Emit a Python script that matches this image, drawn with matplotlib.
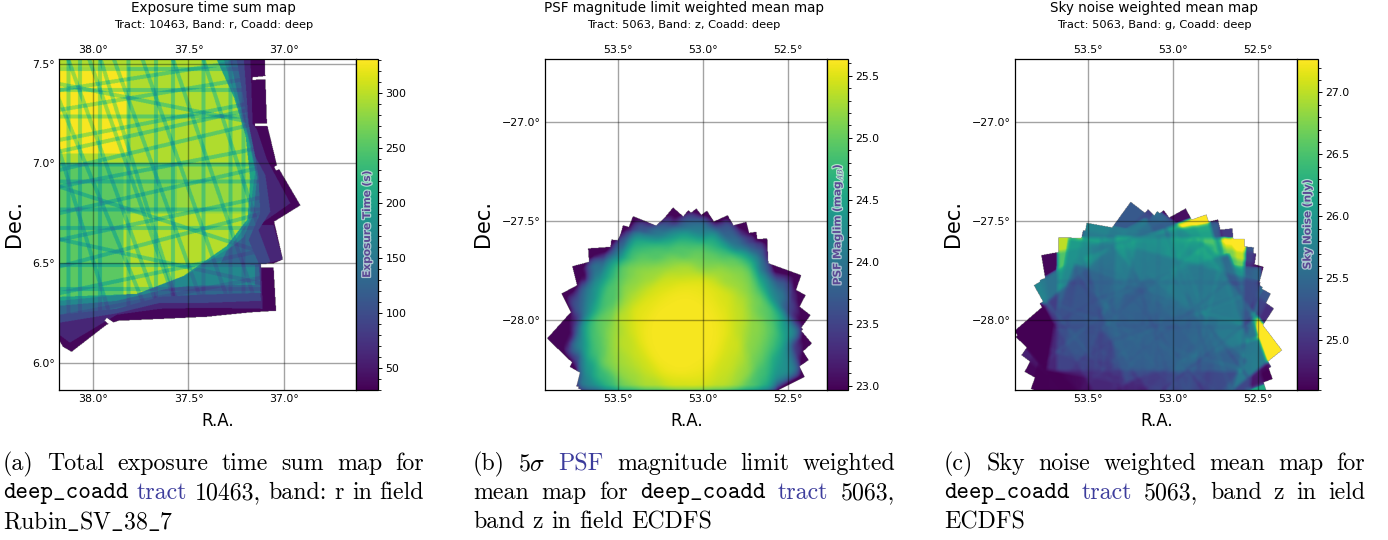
import numpy as np
import matplotlib
matplotlib.use("Agg")
import matplotlib.pyplot as plt
import matplotlib.patheffects as pe
from matplotlib.path import Path
from matplotlib.ticker import AutoMinorLocator

plt.rcParams["mathtext.fontset"] = "cm"

W, H = 1388, 540

# -------------------------------------------------------------------
# PANEL A - exposure time, read off the map as nested levels and stripes
# -------------------------------------------------------------------
A_OUTLINE = [(38.179, 7.54), (37.10, 7.54), (37.088, 7.20), (37.035, 6.99), (36.912, 6.79),
             (37.05, 6.708), (37.004, 6.518), (37.053, 6.498), (37.053, 6.478), (37.04, 6.26),
             (37.175, 6.252), (37.404, 6.23), (37.649, 6.219), (37.868, 6.21), (37.93, 6.19),
             (38.114, 6.054), (38.16, 6.08), (38.179, 6.113)]
A_GAPS = [[(37.163, 7.433), (37.09, 7.44), (37.09, 7.423), (37.163, 7.42)],
          [(37.15, 7.202), (37.08, 7.202), (37.08, 7.188), (37.15, 7.188)],
          [(37.05, 6.985), (37.03, 6.992), (37.02, 6.972), (37.04, 6.965)],
          [(37.12, 6.495), (37.05, 6.498), (37.05, 6.478), (37.12, 6.478)],
          [(37.94, 6.21), (37.915, 6.19), (37.89, 6.20), (37.93, 6.225)]]
A_RIM_VALUE = 35
A_LEVEL_VALUES = [62, 95, 130, 170, 205, 255]
A_LEVELS = [
    [(38.179, 7.54), (37.175, 7.54), (37.163, 7.20), (37.14, 7.17), (37.088, 7.02), (36.965, 6.80),
     (37.07, 6.73), (37.132, 6.69), (37.053, 6.69), (37.005, 6.518), (37.118, 6.49), (37.11, 6.27),
     (37.404, 6.275), (37.649, 6.27), (37.877, 6.24), (37.93, 6.21), (38.123, 6.10), (38.179, 6.14)],
    [(38.179, 7.54), (37.21, 7.54), (37.184, 7.20), (37.149, 7.034), (37.096, 6.942), (37.07, 6.758),
     (37.132, 6.666), (37.07, 6.507), (37.123, 6.482), (37.12, 6.31), (37.404, 6.30), (37.649, 6.30),
     (37.877, 6.247), (38.179, 6.20)],
    [(38.179, 7.54), (37.25, 7.54), (37.21, 7.32), (37.149, 7.034), (37.132, 6.93), (37.123, 6.75),
     (37.184, 6.615), (37.132, 6.50), (37.12, 6.35), (37.456, 6.34), (37.649, 6.33), (37.877, 6.27), (38.179, 6.24)],
    [(38.179, 7.54), (37.285, 7.54), (37.235, 7.32), (37.175, 7.10), (37.14, 6.93), (37.158, 6.75),
     (37.21, 6.63), (37.30, 6.56), (37.33, 6.50), (37.15, 6.49), (37.15, 6.39), (37.5, 6.385),
     (37.614, 6.37), (37.877, 6.31), (38.179, 6.285)],
    [(38.179, 7.54), (37.32, 7.54), (37.25, 7.32), (37.19, 7.14), (37.149, 6.96), (37.184, 6.71),
     (37.28, 6.58), (37.509, 6.44), (37.754, 6.35), (38.179, 6.31)],
    [(38.179, 7.54), (37.36, 7.54), (37.26, 7.33), (37.20, 7.14), (37.175, 6.92), (37.19, 6.72),
     (37.30, 6.585), (37.526, 6.435), (37.772, 6.345), (38.179, 6.33)],
]
# ra_left, ra_right, dec_top, dec_bottom, seconds
A_BLOCKS = [(38.18, 37.18, 7.54, 7.00, 295), (38.18, 37.82, 7.486, 7.05, 328), (37.84, 37.18, 7.00, 6.75, 270),
            (37.56, 37.18, 7.00, 6.75, 285), (37.84, 37.18, 6.75, 6.33, 298)]
# stripes: ra1, dec1, ra2, dec2
A_STRIPES = [
    # rising to the right
    (38.18, 7.369, 37.18, 7.52), (38.18, 7.269, 37.18, 7.428), (38.18, 7.118, 37.18, 7.302),
    (38.18, 6.967, 37.18, 7.193), (38.18, 6.884, 37.18, 7.068), (38.18, 6.75, 37.18, 6.967),
    (38.18, 6.616, 37.18, 6.817), (38.18, 6.482, 37.18, 6.733), (38.18, 6.348, 37.18, 6.549),
    (38.18, 6.23, 37.18, 6.415), (38.18, 7.06, 37.18, 7.27),
    # falling steeply
    (38.13, 7.52, 37.61, 6.146), (38.02, 7.52, 37.51, 6.146), (37.89, 7.52, 37.37, 6.146),
    (37.74, 7.52, 37.23, 6.146), (37.58, 7.52, 37.09, 6.146), (37.42, 7.52, 36.95, 6.146),
    (38.18, 7.068, 37.91, 6.23), (38.18, 7.32, 37.67, 6.146), (37.96, 7.52, 37.56, 6.30),
    # falling gently
    (38.18, 6.884, 37.65, 6.72), (38.18, 6.62, 37.51, 6.48), (38.18, 7.40, 37.76, 7.32),
    # vertical
    (38.13, 7.6, 38.13, 6.0), (38.07, 7.6, 38.07, 6.0), (37.965, 7.6, 37.965, 6.0),
    (37.815, 7.6, 37.815, 6.0), (37.67, 7.6, 37.67, 6.0), (37.58, 7.6, 37.58, 6.0),
    (37.42, 7.6, 37.42, 6.0), (37.28, 7.6, 37.28, 6.0), (37.21, 7.6, 37.21, 6.0),
    # horizontal
    (38.2, 7.475, 37.0, 7.475), (38.2, 7.37, 37.0, 7.37), (38.2, 7.235, 37.0, 7.235),
    (38.2, 6.995, 37.0, 6.995), (38.2, 6.91, 37.0, 6.91), (38.2, 6.77, 37.0, 6.77),
    (38.2, 6.675, 37.0, 6.675), (38.2, 6.49, 37.0, 6.49), (38.2, 6.37, 37.0, 6.37),
]

# -------------------------------------------------------------------
# PANEL B - PSF maglim, ComCam style pointings
# -------------------------------------------------------------------
B_CENTER = (53.12, -28.07)
B_RIM_RA = [53.176, 53.039, 52.976, 52.853, 52.745, 52.686, 52.622, 52.618, 52.422, 52.396, 52.367, 52.359,
            52.378, 52.402, 52.55, 52.80, 53.10, 53.40, 53.60, 53.735, 53.784, 53.918, 53.833, 53.769,
            53.676, 53.539, 53.471, 53.412]
B_RIM_DEC = [-27.434, -27.439, -27.451, -27.473, -27.507, -27.557, -27.591, -27.700, -27.776, -27.877,
             -27.978, -28.121, -28.205, -28.290, -28.45, -28.65, -28.72, -28.62, -28.48, -28.348, -28.239,
             -28.096, -27.869, -27.731, -27.641, -27.596, -27.524, -27.478]
B_MID_RA = [53.31, 53.30, 53.26, 53.20, 53.12, 53.04, 52.98, 52.94, 52.93, 52.94, 52.98, 53.04, 53.12, 53.20, 53.26, 53.30]
B_MID_DEC = [-28.07, -28.01, -27.95, -27.92, -27.91, -27.92, -27.95, -28.01, -28.07, -28.13, -28.19, -28.22,
             -28.23, -28.22, -28.19, -28.13]
B_MID_ROT = [5, 25, 50, 70, 15, 40, 60, 80, 10, 35, 55, 75, 20, 45, 65, 85]
B_MID_WEIGHT = 2
B_INNER_RA = [53.12, 53.16, 53.06, 53.20, 53.02, 53.12, 53.25, 52.98, 53.14, 53.08, 53.28, 52.94]
B_INNER_DEC = [-28.05, -28.10, -28.02, -28.15, -28.12, -27.96, -28.02, -28.03, -28.20, -28.14, -28.10, -28.10]
B_INNER_ROT = [0, 20, 40, 60, 80, 10, 30, 50, 70, 35, 15, 65]
B_INNER_WEIGHT = 5

# -------------------------------------------------------------------
# PANEL C - sky noise, value per pointing
# -------------------------------------------------------------------
C_CENTER = (53.14, -28.07)
C_RIM_RA = [53.249, 53.147, 53.055, 52.925, 52.804, 52.735, 52.651, 52.578, 52.524, 52.510, 52.467, 52.425,
            52.406, 52.359, 52.422, 52.45, 52.80, 53.10, 53.40, 53.60, 53.745, 53.873, 53.892, 53.925,
            53.784, 53.784, 53.775, 53.673, 53.529, 53.363]
C_RIM_DEC = [-27.406, -27.444, -27.448, -27.439, -27.470, -27.495, -27.540, -27.594, -27.636, -27.667,
             -27.734, -27.869, -27.944, -28.155, -28.239, -28.36, -28.65, -28.72, -28.62, -28.48, -28.348,
             -28.264, -28.180, -28.088, -27.919, -27.801, -27.675, -27.586, -27.549, -27.540]
C_RIM_VALUE = [25.35, 25.1, 24.65, 24.7, 28.0, 24.7, 25.05, 28.0, 25.3, 24.9, 24.65, 25.3,
               24.95, 28.0, 25.3, 26.2, 25.0, 25.0, 24.9, 24.9, 24.7, 24.65, 24.85, 24.7,
               24.75, 25.0, 24.65, 27.0, 25.0, 25.15]
C_INNER_RA = [53.2, 53.0, 53.3, 53.05, 53.35, 53.40, 52.95, 52.90, 53.10, 53.15, 52.9, 53.30]
C_INNER_DEC = [-27.9, -27.92, -27.95, -27.9, -28.15, -28.10, -28.05, -28.10, -28.25, -28.30, -28.05, -27.98]
C_INNER_ROT = [10, 35, 60, 80, 20, 50, 15, 70, 40, 5, 5, 10]
C_INNER_VALUE = [25.8, 25.6, 25.8, 25.5, 24.6, 24.55, 24.55, 24.6, 24.7, 24.9, 25.6, 25.6]

# -------------------------------------------------------------------
# AXES / TEXT
# -------------------------------------------------------------------
PANEL_LEFT = [59, 545, 1015]
PANEL_RIGHT = [356, 827, 1297]
CBAR_RIGHT = [378, 848, 1318]
TITLE_X = [213.7, 683.6, 1154]
XLABEL_X = [217.5, 687, 1157]
YLABEL_X = [14, 483, 953]
XLIMS = [(38.18, 36.62), (53.93, 52.27), (53.93, 52.27)]
YLIMS = [(5.862, 7.525), (-28.356, -26.684), (-28.356, -26.684)]
XTICKS = [[38.0, 37.5, 37.0], [53.5, 53.0, 52.5], [53.5, 53.0, 52.5]]
YTICKS = [[6.0, 6.5, 7.0, 7.5], [-28.0, -27.5, -27.0], [-28.0, -27.5, -27.0]]
VLIMS = [(30, 331), (22.965, 25.635), (24.6, 27.27)]
CBAR_TICKS = [[50, 100, 150, 200, 250, 300],
              [23.0, 23.5, 24.0, 24.5, 25.0, 25.5],
              [25.0, 25.5, 26.0, 26.5, 27.0]]
TITLES = ["Exposure time sum map", "PSF magnitude limit weighted mean map", "Sky noise weighted mean map"]
SUBTITLES = ["Tract: 10463, Band: r, Coadd: deep", "Tract: 5063, Band: z, Coadd: deep", "Tract: 5063, Band: g, Coadd: deep"]
CBAR_LABELS = ["Exposure Time (s)", r"PSF Maglim (mag$_{AB}$)", "Sky Noise (nJy)"]

R = "cmr10"
T = "cmtt10"
LINK = "#3c3c9c"
CAPTIONS = [
    (3, 424, [
        [("(a)", R), ("Total", R), ("exposure", R), ("time", R), ("sum", R), ("map", R), ("for", R)],
        [("deep_coadd", T), ("tract", LINK), ("10463,", R), ("band:", R), ("r", R), ("in", R), ("field", R)],
        [(r"$\mathrm{Rubin\_SV\_38\_7}$", R)],
    ]),
    (473, 895, [
        [("(b)", R), (r"5$\sigma$", R), ("PSF", LINK), ("magnitude", R), ("limit", R), ("weighted", R)],
        [("mean", R), ("map", R), ("for", R), ("deep_coadd", T), ("tract", LINK), ("5063,", R)],
        [("band", R), ("z", R), ("in", R), ("field", R), ("ECDFS", R)],
    ]),
    (944, 1365, [
        [("(c)", R), ("Sky", R), ("noise", R), ("weighted", R), ("mean", R), ("map", R), ("for", R)],
        [("deep_coadd", T), ("tract", LINK), ("5063,", R), ("band", R), ("z", R), ("in", R), ("ield", R)],
        [("ECDFS", R)],
    ]),
]
CAPTION_Y = [461.5, 490.5, 519.5]


def pixel_grid(xlim, ylim, nx, ny):
    xs = np.linspace(xlim[0], xlim[1], nx, endpoint=False) + (xlim[1] - xlim[0]) / nx / 2
    ys = np.linspace(ylim[1], ylim[0], ny, endpoint=False) + (ylim[0] - ylim[1]) / ny / 2
    return np.meshgrid(xs, ys)


def in_polygon(poly, ra, dec):
    pts = np.column_stack([ra.ravel(), dec.ravel()])
    return Path(poly).contains_points(pts).reshape(ra.shape)


def mapa_exposicion(ra, dec):
    img = np.full(ra.shape, float(A_RIM_VALUE))
    for value, poly in zip(A_LEVEL_VALUES, A_LEVELS):
        img[in_polygon(poly, ra, dec)] = value

    interior = in_polygon(A_LEVELS[-1], ra, dec)
    for left, right, top, bottom, value in A_BLOCKS:
        sel = (ra <= left) & (ra >= right) & (dec <= top) & (dec >= bottom)
        img[sel & interior] = value

    # stripes are chip gaps, only show where many visits overlap
    inner = in_polygon(A_LEVELS[2], ra, dec)
    x, y = ra * 190, dec * 199
    for r1, d1, r2, d2 in A_STRIPES:
        x1, y1, x2, y2 = r1 * 190, d1 * 199, r2 * 190, d2 * 199
        dist = np.abs((x2 - x1) * (y - y1) - (y2 - y1) * (x - x1)) / np.hypot(x2 - x1, y2 - y1)
        img[inner & (dist < 2.0)] *= 0.87

    mask = in_polygon(A_OUTLINE, ra, dec)
    for gap in A_GAPS:
        mask &= ~in_polygon(gap, ra, dec)
    img[~mask] = np.nan
    return img


def visita(ra, dec, ra0, dec0, rot, half=0.335):
    cosd = np.cos(np.radians(-28.0))
    dx = (ra - ra0) * cosd
    dy = dec - dec0
    c, s = np.cos(np.radians(rot)), np.sin(np.radians(rot))
    u = c * dx + s * dy
    v = -s * dx + c * dy
    return (np.abs(u) < half) & (np.abs(v) < half), u, v


def visita_desde_borde(corner_ra, corner_dec, center, half=0.335):
    # the pointing whose corner is this tooth of the outline
    cosd = np.cos(np.radians(-28.0))
    dx = (corner_ra - center[0]) * cosd
    dy = corner_dec - center[1]
    r = np.hypot(dx, dy)
    reach = half * np.sqrt(2)
    ra0 = center[0] + dx / r * (r - reach) / cosd
    dec0 = center[1] + dy / r * (r - reach)
    rot = np.degrees(np.arctan2(dy, dx)) - 45
    return ra0, dec0, rot


def suavizar(a, n):
    kernel = np.ones(n) / n
    a = np.apply_along_axis(lambda row: np.convolve(row, kernel, mode="same"), 0, a)
    return np.apply_along_axis(lambda row: np.convolve(row, kernel, mode="same"), 1, a)


def mapa_maglim(ra, dec):
    weight = np.zeros(ra.shape)
    for cr, cd in zip(B_RIM_RA, B_RIM_DEC):
        ra0, dec0, rot = visita_desde_borde(cr, cd, B_CENTER)
        weight += visita(ra, dec, ra0, dec0, rot)[0]
    for ra0, dec0, rot in zip(B_MID_RA, B_MID_DEC, B_MID_ROT):
        weight += B_MID_WEIGHT * visita(ra, dec, ra0, dec0, rot)[0]
    for ra0, dec0, rot in zip(B_INNER_RA, B_INNER_DEC, B_INNER_ROT):
        weight += B_INNER_WEIGHT * visita(ra, dec, ra0, dec0, rot)[0]
    sel = weight > 0
    # the deep part is soft in the source, the outline stays sharp
    soft = np.maximum(suavizar(weight, 21), 1.0)
    img = np.full(ra.shape, np.nan)
    img[sel] = 23.0 + 1.25 * np.log10(soft[sel])
    return img


def sumar_ruido(total, weight, ra, dec, ra0, dec0, rot, value, w):
    inside, u, v = visita(ra, dec, ra0, dec0, rot)
    # chip gaps only thin the weight so the outline stays closed
    third = 0.335 / 3
    gap = (np.abs(np.abs(u) - third) < 0.006) | (np.abs(np.abs(v) - third) < 0.006)
    local = inside * np.where(gap, 0.25 * w, w)
    total += local * value
    weight += local


def mapa_ruido(ra, dec):
    total = np.zeros(ra.shape)
    weight = np.zeros(ra.shape)
    for cr, cd, value in zip(C_RIM_RA, C_RIM_DEC, C_RIM_VALUE):
        ra0, dec0, rot = visita_desde_borde(cr, cd, C_CENTER)
        sumar_ruido(total, weight, ra, dec, ra0, dec0, rot, value, 2.0 if value > 26.5 else 0.5)
    for ra0, dec0, rot, value in zip(C_INNER_RA, C_INNER_DEC, C_INNER_ROT, C_INNER_VALUE):
        sumar_ruido(total, weight, ra, dec, ra0, dec0, rot, value, 4.0)
    sel = weight > 0
    soft_t, soft_w = suavizar(total, 9), suavizar(weight, 9)
    ok = sel & (soft_w > 0.2)
    img = np.full(ra.shape, np.nan)
    img[sel] = total[sel] / weight[sel]
    img[ok] = soft_t[ok] / soft_w[ok]
    return img


def graficar_panel(fig, i, build):
    x0, x1, cb = PANEL_LEFT[i], PANEL_RIGHT[i], CBAR_RIGHT[i]
    y0, y1 = 59, 390
    ax = fig.add_axes([x0 / W, 1 - y1 / H, (x1 - x0) / W, (y1 - y0) / H])
    cax = fig.add_axes([x1 / W, 1 - y1 / H, (cb - x1) / W, (y1 - y0) / H])

    ra, dec = pixel_grid(XLIMS[i], YLIMS[i], (x1 - x0) * 2, (y1 - y0) * 2)
    img = build(ra, dec)
    extent = [XLIMS[i][0], XLIMS[i][1], YLIMS[i][0], YLIMS[i][1]]
    im = ax.imshow(img, extent=extent, aspect="auto", cmap="viridis",
                   vmin=VLIMS[i][0], vmax=VLIMS[i][1], interpolation="antialiased")

    ax.set_xlim(XLIMS[i])
    ax.set_ylim(YLIMS[i])
    ax.set_xticks(XTICKS[i])
    ax.set_yticks(YTICKS[i])
    ax.set_xticklabels([f"{t:.1f}°" for t in XTICKS[i]])
    ax.set_yticklabels([f"{t:.1f}°".replace("-", "\u2212") for t in YTICKS[i]])
    ax.tick_params(top=True, labeltop=True, length=0, labelsize=7.9, pad=3)
    ax.grid(True, color="k", alpha=0.36, lw=1.0)
    ax.set_axisbelow(False)
    for sp in ax.spines.values():
        sp.set_linewidth(0.9)

    cbar = fig.colorbar(im, cax=cax)
    cbar.set_ticks(CBAR_TICKS[i])
    cbar.set_ticklabels([str(t) for t in CBAR_TICKS[i]])
    cax.yaxis.set_minor_locator(AutoMinorLocator(5))
    cax.tick_params(which="major", length=3, width=0.7, labelsize=7.9, pad=2.5)
    cax.tick_params(which="minor", length=2, width=0.6)
    cbar.outline.set_linewidth(0.9)
    cax.text(0.5, 0.5, CBAR_LABELS[i], transform=cax.transAxes, rotation=90, ha="center", va="center",
             fontsize=7.6, fontweight="bold", color="#5b4a94",
             path_effects=[pe.withStroke(linewidth=1.8, foreground="white", alpha=0.6)])

    fig.text(TITLE_X[i] / W, 1 - 8 / H, TITLES[i], ha="center", va="center", fontsize=9.75)
    fig.text(TITLE_X[i] / W, 1 - 24.5 / H, SUBTITLES[i], ha="center", va="center", fontsize=8.2)
    fig.text(XLABEL_X[i] / W, 1 - 421 / H, "R.A.", ha="center", va="center", fontsize=12)
    fig.text(YLABEL_X[i] / W, 1 - 224 / H, "Dec.", ha="center", va="center", rotation=90, fontsize=15)


def escribir_pie(fig, x0, x1, lines):
    renderer = fig.canvas.get_renderer()
    for row, words in enumerate(lines):
        items = []
        for word, style in words:
            color = "black"
            family = style
            if style == LINK:
                color, family = LINK, R
            t = fig.text(0, 1 - CAPTION_Y[row] / H, word, family=family, fontsize=17.2, color=color, va="center_baseline")
            items.append((t, t.get_window_extent(renderer).width))
        total = sum(w for _, w in items)
        gap = (x1 - x0 - total) / (len(items) - 1) if row < 2 and len(items) > 1 else 8
        x = x0
        for t, w in items:
            t.set_x(x / W)
            x += w + gap


def main():
    fig = plt.figure(figsize=(W / 100, H / 100), dpi=100)
    for i, build in enumerate([mapa_exposicion, mapa_maglim, mapa_ruido]):
        graficar_panel(fig, i, build)
    fig.canvas.draw()
    for x0, x1, lines in CAPTIONS:
        escribir_pie(fig, x0, x1, lines)
    fig.savefig("out.png", dpi=100)
    plt.close(fig)


if __name__ == "__main__":
    main()
